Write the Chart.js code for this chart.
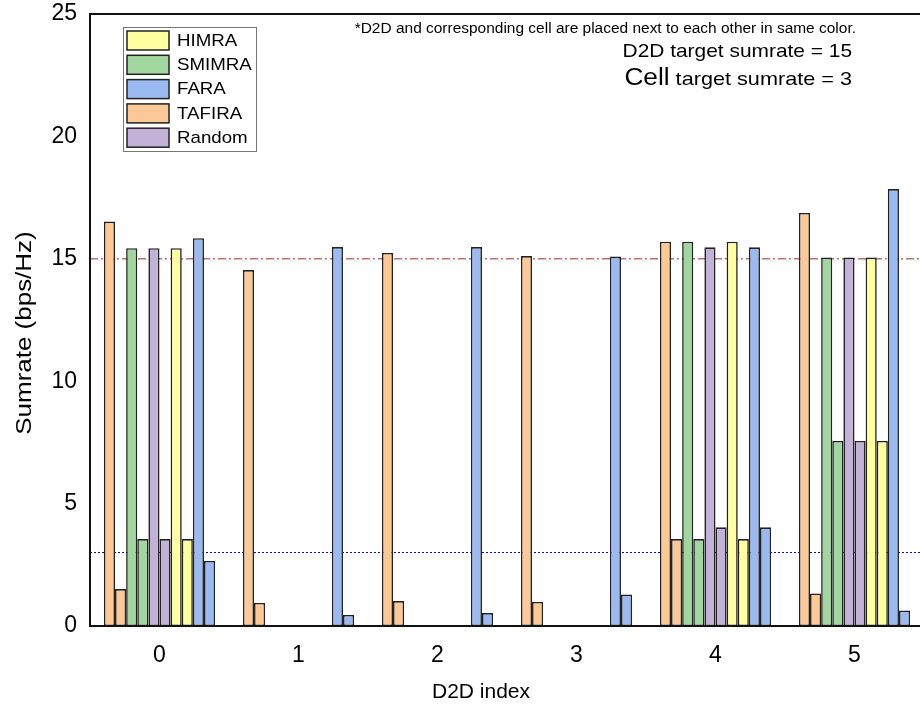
<!DOCTYPE html>
<html>
<head>
<meta charset="utf-8">
<script src="https://cdn.jsdelivr.net/npm/chart.js@4"></script>
<style>
  html, body { margin: 0; padding: 0; overflow: hidden; background: #fff; }
  .chart-wrap { width: 926px; height: 711px; }
</style>
</head>
<body>
<div class="chart-wrap"><canvas id="chart" width="926" height="711"></canvas></div>
<script>
const categories = ['0', '1', '2', '3', '4', '5'];

// D2D sumrate and matching cell sumrate per scheme
const tafiraD2D = [16.52, 14.54, 15.24, 15.11, 15.70, 16.87];
const tafiraCell = [1.51, 0.94, 1.02, 0.98, 3.55, 1.33];
const smimraD2D = [15.43, 0, 0, 0, 15.70, 15.05];
const smimraCell = [3.55, 0, 0, 0, 3.55, 7.56];
const randomD2D = [15.43, 0, 0, 0, 15.47, 15.05];
const randomCell = [3.55, 0, 0, 0, 4.03, 7.56];
const himraD2D = [15.43, 0, 0, 0, 15.70, 15.05];
const himraCell = [3.55, 0, 0, 0, 3.55, 7.56];
const faraD2D = [15.84, 15.48, 15.48, 15.09, 15.47, 17.85];
const faraCell = [2.66, 0.45, 0.53, 1.29, 4.03, 0.63];

const yTicks = [0, 5, 10, 15, 20, 25];
const d2dTarget = 15;
const cellTarget = 3;

const colors = {
  HIMRA: '#ffffa0',
  SMIMRA: '#a2d69f',
  FARA: '#9bbaf2',
  TAFIRA: '#fcc896',
  Random: '#c3b2d7',
};
const legendOrder = ['HIMRA', 'SMIMRA', 'FARA', 'TAFIRA', 'Random'];

function bar(label, data) {
  return {
    label: label,
    data: data,
    backgroundColor: colors[label],
    borderColor: '#222',
    borderWidth: 1.6,
    borderSkipped: false,
  };
}

const datasets = [
  bar('TAFIRA', tafiraD2D), bar('TAFIRA', tafiraCell),
  bar('SMIMRA', smimraD2D), bar('SMIMRA', smimraCell),
  bar('Random', randomD2D), bar('Random', randomCell),
  bar('HIMRA', himraD2D), bar('HIMRA', himraCell),
  bar('FARA', faraD2D), bar('FARA', faraCell),
];

const FONT = '"Liberation Sans", Arial, sans-serif';

// text in the original is a bit wider than Liberation Sans, stretch it sideways
function wideText(ctx, text, x, y, sx) {
  ctx.save();
  ctx.translate(x, y);
  ctx.scale(sx, 1);
  ctx.fillText(text, 0, 0);
  ctx.restore();
}

const decorPlugin = {
  id: 'decor',
  beforeDatasetsDraw(chart) {
    const { ctx, chartArea, scales } = chart;
    ctx.save();
    let y = scales.y.getPixelForValue(d2dTarget);
    ctx.strokeStyle = '#b87272';
    ctx.lineWidth = 1.5;
    ctx.setLineDash([8, 3, 2, 3]);
    ctx.beginPath();
    ctx.moveTo(chartArea.left, y);
    ctx.lineTo(chartArea.right, y);
    ctx.stroke();

    y = scales.y.getPixelForValue(cellTarget);
    ctx.strokeStyle = '#0000a8';
    ctx.lineWidth = 1;
    ctx.setLineDash([2, 2]);
    ctx.beginPath();
    ctx.moveTo(chartArea.left, y);
    ctx.lineTo(chartArea.right, y);
    ctx.stroke();
    ctx.restore();
  },
  afterDraw(chart) {
    const { ctx, chartArea } = chart;
    ctx.save();
    ctx.strokeStyle = '#111';
    ctx.lineWidth = 2;
    ctx.setLineDash([]);
    ctx.strokeRect(chartArea.left, chartArea.top, chartArea.right - chartArea.left, chartArea.bottom - chartArea.top);

    // legend
    const lx = chartArea.left + 33, ly = chartArea.top + 13;
    ctx.fillStyle = '#fff';
    ctx.fillRect(lx, ly, 133, 124);
    ctx.strokeStyle = '#777';
    ctx.lineWidth = 1;
    ctx.strokeRect(lx + 0.5, ly + 0.5, 133, 124);
    ctx.font = '17px ' + FONT;
    ctx.textBaseline = 'middle';
    ctx.textAlign = 'left';
    legendOrder.forEach((name, i) => {
      const by = ly + 4 + i * 24.3;
      ctx.fillStyle = colors[name];
      ctx.fillRect(lx + 4, by, 42, 19);
      ctx.strokeStyle = '#222';
      ctx.lineWidth = 1.5;
      ctx.strokeRect(lx + 4, by, 42, 19);
      ctx.fillStyle = '#000';
      wideText(ctx, name, lx + 54, by + 10, 1.1);
    });

    // notes
    ctx.fillStyle = '#000';
    ctx.textBaseline = 'alphabetic';
    ctx.textAlign = 'right';
    ctx.font = '14px ' + FONT;
    wideText(ctx, '*D2D and corresponding cell are placed next to each other in same color.', 856, 33, 1.105);
    ctx.font = '19px ' + FONT;
    wideText(ctx, 'D2D target sumrate = ' + d2dTarget, 852, 57, 1.1);
    const rest = ' target sumrate = ' + cellTarget;
    wideText(ctx, rest, 852, 85, 1.14);
    const w = ctx.measureText(rest).width * 1.14;
    ctx.font = '23px ' + FONT;
    wideText(ctx, 'Cell', 852 - w, 85, 1.14);

    // axis titles
    ctx.font = '21px ' + FONT;
    ctx.textAlign = 'center';
    ctx.textBaseline = 'alphabetic';
    wideText(ctx, 'D2D index', 481, 698, 1.0);
    ctx.font = '22px ' + FONT;
    ctx.translate(31, 333);
    ctx.rotate(-Math.PI / 2);
    wideText(ctx, 'Sumrate (bps/Hz)', 0, 0, 1.18);
    ctx.restore();
  },
};

new Chart(document.getElementById('chart').getContext('2d'), {
  type: 'bar',
  data: { labels: categories, datasets: datasets },
  plugins: [decorPlugin],
  options: {
    responsive: false,
    animation: false,
    layout: { padding: { top: 14, right: 2, left: 0, bottom: 0 } },
    datasets: { bar: { categoryPercentage: 0.8, barPercentage: 1.0 } },
    plugins: { legend: { display: false }, tooltip: { enabled: false } },
    scales: {
      x: {
        grid: { display: false, drawTicks: false },
        border: { display: false },
        ticks: { color: '#000', font: { family: FONT, size: 23 }, padding: 16, maxRotation: 0 },
        afterFit(scale) { scale.height = 85; scale.paddingLeft = 0; scale.paddingRight = 0; },
      },
      y: {
        min: 0,
        max: 25,
        afterBuildTicks(scale) { scale.ticks = yTicks.map(v => ({ value: v })); },
        grid: { display: false, drawTicks: false },
        border: { display: false },
        ticks: { color: '#000', font: { family: FONT, size: 23 }, padding: 13 },
        afterFit(scale) { scale.width = 90; scale.paddingTop = 0; scale.paddingBottom = 0; },
      },
    },
  },
});
</script>
</body>
</html>
